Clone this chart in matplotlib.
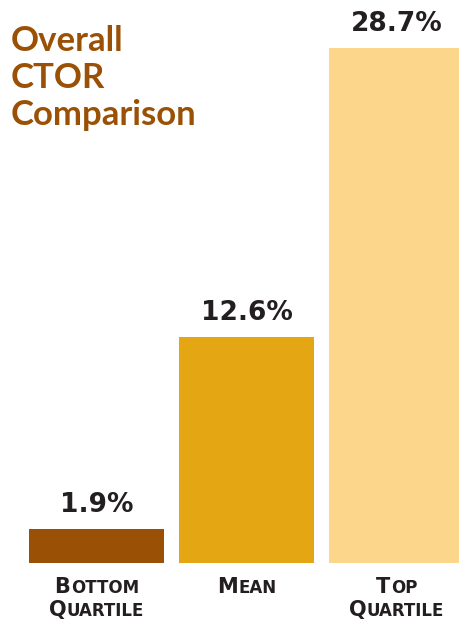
import matplotlib.pyplot as plt
from matplotlib.offsetbox import TextArea, HPacker, VPacker, AnnotationBbox

categories = ["Bottom\nQuartile", "Mean", "Top\nQuartile"]
values = [1.9, 12.6, 28.7]
value_labels = ["1.9%", "12.6%", "28.7%"]
colors = ["#9A5106", "#E5A613", "#FCD78B"]

title_color = "#9A5106"
text_color = "#231F20"

fig = plt.figure(figsize=(4.6, 6.2), dpi=100)
# axes fill the figure, bottom edge is the bar baseline
ax = fig.add_axes([0, 1 - 563 / 620, 1, 563 / 620])
x = list(range(len(values)))
ax.bar(x, values, width=0.9, color=colors)
ax.set_xlim(-96.5 / 150, (460 - 96.5) / 150)
ax.set_ylim(0, 563 / 17.94)
ax.axis("off")

for xi, v, lab in zip(x, values, value_labels):
    ax.annotate(lab, (xi, v), xytext=(0, 12), textcoords="offset points",
                ha="center", va="baseline", fontsize=19, fontweight="bold",
                family="DejaVu Sans", color=text_color)


def small_caps(word, big=15, small=12):
    props = dict(fontweight="bold", family="DejaVu Sans", color=text_color)
    parts = [TextArea(word[0], textprops=dict(fontsize=big, **props)),
             TextArea(word[1:].upper(), textprops=dict(fontsize=small, **props))]
    return HPacker(children=parts, align="baseline", pad=0, sep=0.5)


for xi, cat in zip(x, categories):
    lines = [small_caps(w) for w in cat.split("\n")]
    box = VPacker(children=lines, align="center", pad=0, sep=2)
    ab = AnnotationBbox(box, (xi, 0), xybox=(0, -10), xycoords="data",
                        boxcoords="offset points", box_alignment=(0.5, 1),
                        frameon=False, annotation_clip=False)
    ax.add_artist(ab)

fig.text(11 / 460, 1 - 25 / 620, "Overall\nCTOR\nComparison", ha="left", va="top",
         fontsize=25, fontweight="bold", family="Lato", color=title_color,
         linespacing=1.2)

fig.savefig("out.png", dpi=100)
